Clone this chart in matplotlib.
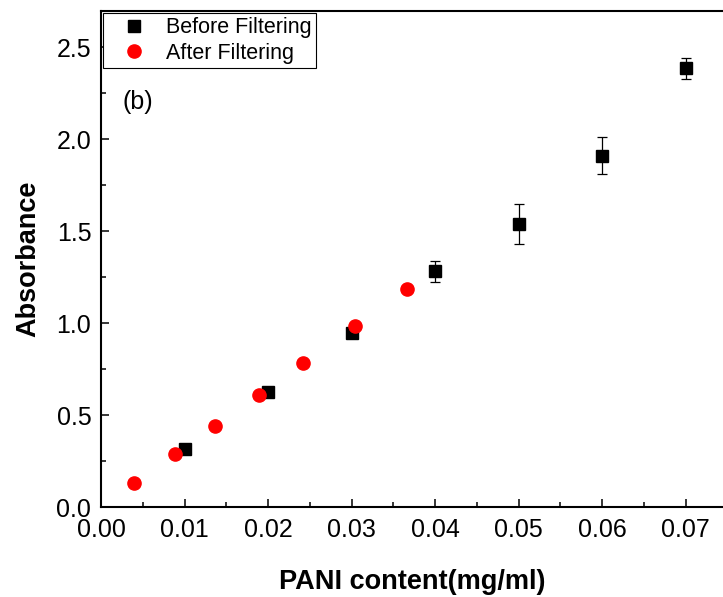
import matplotlib
matplotlib.use("Agg")
import matplotlib.pyplot as plt
from matplotlib.ticker import MultipleLocator

plt.rcParams['font.family'] = ['Liberation Sans', 'DejaVu Sans']

before_x = [0.01, 0.02, 0.03, 0.04, 0.05, 0.06, 0.07]
before_y = [0.315, 0.628, 0.949, 1.283, 1.539, 1.910, 2.387]
before_err = [0.02, 0.02, 0.02, 0.057, 0.107, 0.100, 0.057]

after_x = [0.0040, 0.0089, 0.0136, 0.0189, 0.0242, 0.0304, 0.0366]
after_y = [0.130, 0.290, 0.442, 0.612, 0.783, 0.985, 1.185]

W, H = 723, 597
fig = plt.figure(figsize=(W / 100, H / 100), dpi=100)
left, right, bottom, top = 101, 723, 507.3, 11
ax = fig.add_axes([left / W, (H - bottom) / H, (right - left) / W, (bottom - top) / H])

ax.errorbar(before_x, before_y, yerr=before_err, fmt='none',
            ecolor='black', elinewidth=0.9, capsize=3.6,
            capthick=0.9, zorder=2)
ax.plot(before_x, before_y, 's', color='black', markersize=8,
        label='Before Filtering', zorder=3)
ax.plot(after_x, after_y, 'o', color='red', markersize=9.5,
        label='After Filtering', zorder=4)

ax.set_xlim(0, (right - left) / 8350)
ax.set_ylim(0, (bottom - top) / 184)

ax.xaxis.set_major_locator(MultipleLocator(0.01))
ax.xaxis.set_minor_locator(MultipleLocator(0.005))
ax.yaxis.set_major_locator(MultipleLocator(0.5))
ax.yaxis.set_minor_locator(MultipleLocator(0.25))
ax.xaxis.set_major_formatter(plt.FuncFormatter(lambda v, p: f"{v:.2f}"))
ax.yaxis.set_major_formatter(plt.FuncFormatter(lambda v, p: f"{v:.1f}"))

ax.tick_params(which='both', direction='in', width=1.1, labelsize=18,
               top=False, right=False)
ax.tick_params(which='major', length=6)
ax.tick_params(which='minor', length=3.5)
ax.tick_params(axis='x', pad=8)
ax.tick_params(axis='y', pad=7)

for s in ['left', 'bottom', 'top']:
    ax.spines[s].set_linewidth(1.5)
ax.spines['right'].set_visible(False)

ax.set_xlabel('PANI content(mg/ml)', fontsize=19.5, fontweight='bold', labelpad=19)
ax.set_ylabel('Absorbance', fontsize=19.5, fontweight='bold', labelpad=11)

ax.text(0.00254, 2.20, '(b)', fontsize=18, ha='left', va='center')

leg = ax.legend(loc='upper left', bbox_to_anchor=(0.003, 0.996), borderaxespad=0,
                fontsize=15.5, frameon=True, fancybox=False, framealpha=1,
                edgecolor='black', handlelength=2.5, handletextpad=0.25,
                borderpad=0.2, labelspacing=0.2)
leg.get_frame().set_linewidth(0.8)

fig.savefig('out.png', dpi=100)
